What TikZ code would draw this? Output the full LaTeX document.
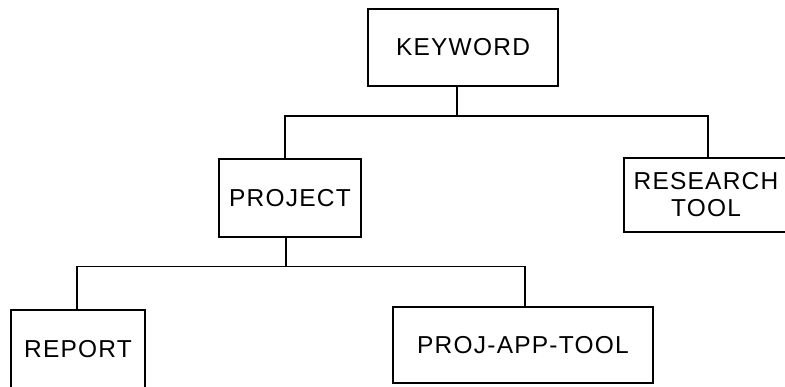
\documentclass[tikz,border=0pt]{standalone}
\usepackage{fontspec}
\setmainfont{Liberation Sans}[LetterSpace=5]
\usetikzlibrary{calc}

\begin{document}
\begin{tikzpicture}[x=1pt,y=1pt,
	box/.style={draw,line width=1.2pt,inner sep=0pt,align=center,
		font=\fontsize{24.5}{27}\selectfont},
	link/.style={line width=1.2pt}]
	%%%%% START %%%%%
	\def\ybusone{271}
	\def\ybustwo{121}
	\useasboundingbox (0,0) rectangle (785,387);
	
	\node[box,minimum width=190,minimum height=77] (kw) at (463,339.5) {KEYWORD};
	\node[box,minimum width=142,minimum height=78] (proj) at (290,189) {PROJECT};
	\node[box,minimum width=164,minimum height=74] (rt) at (706,192) {RESEARCH\\TOOL};
	\node[box,minimum width=134,minimum height=78] (rep) at (78,38) {REPORT};
	\node[box,minimum width=260,minimum height=76] (pat) at (523,42) {PROJ-APP-TOOL};
	
	\draw[link] ([xshift=-6]kw.south) -- ($([xshift=-6]kw.south)!1!(457,\ybusone)$) coordinate (busone);
	\draw[link] ([xshift=-5]proj.north) |- (busone) -| ([xshift=2]rt.north);
	
	\draw[link] ([xshift=-4]proj.south) -- ++(0,\ybustwo-150) coordinate (bustwo);
	\draw[link] ([xshift=-1]rep.north) |- (bustwo) -| ([xshift=2]pat.north);
	%%%%% END %%%%%
\end{tikzpicture}
\end{document}
